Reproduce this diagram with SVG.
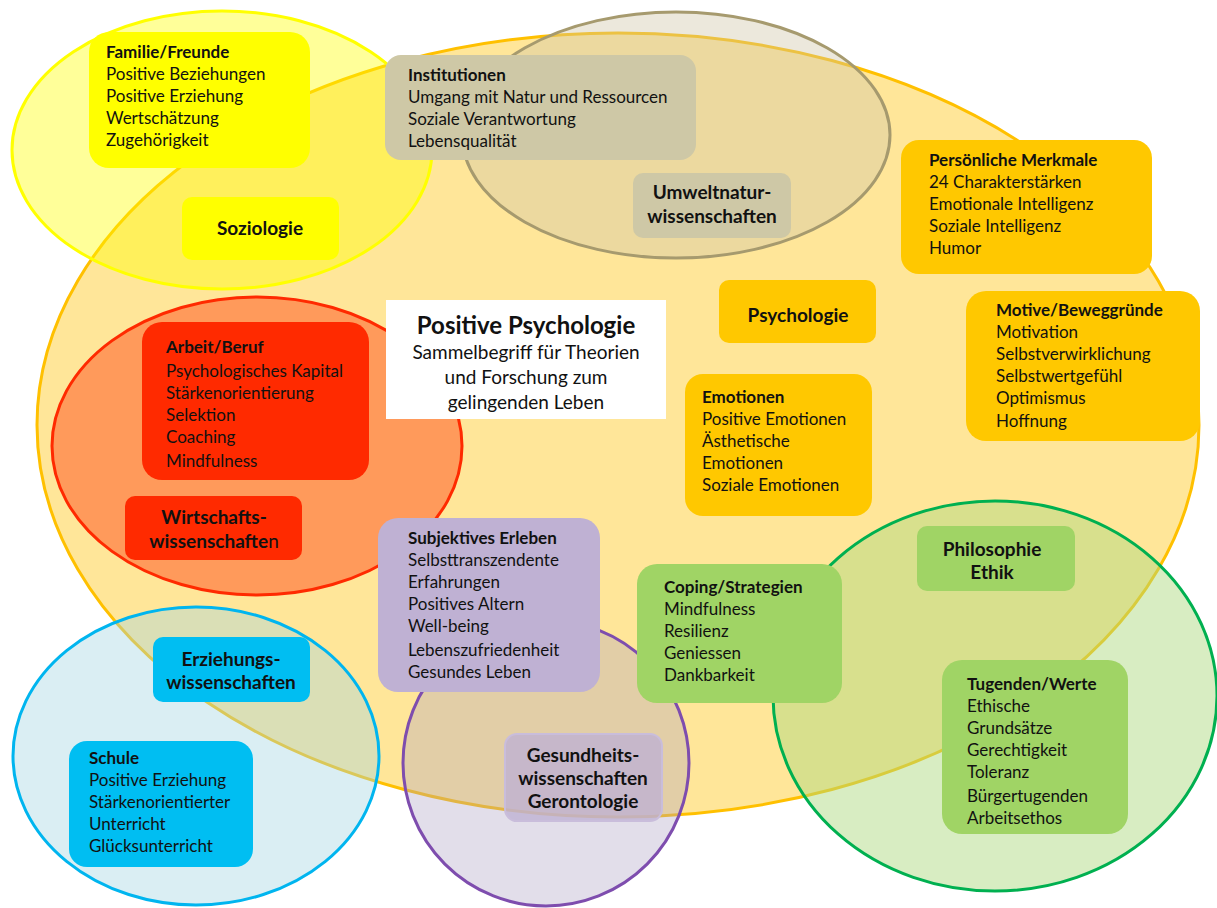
<svg xmlns="http://www.w3.org/2000/svg" width="1217" height="908" viewBox="0 0 1217 908">
<style>
text{font-family:Lato,"Liberation Sans",sans-serif;fill:#111;}
.b{font-size:17px;}
.t{font-size:17px;font-weight:bold;}
.h{font-size:19px;font-weight:bold;text-anchor:middle;}
.c{text-anchor:middle;}
.s{font-size:19px;}
</style>
<rect width="1217" height="908" fill="#fff"/>
<g id="areas">
<ellipse id="area-psychologie" cx="618" cy="425" rx="581" ry="392" fill="#FFE699" stroke="#FFC000" stroke-width="3"/>
<ellipse id="area-soziologie" cx="222" cy="150" rx="210" ry="139" fill="#FFFF00" fill-opacity="0.4" stroke="#FFFF00" stroke-width="3"/>
<ellipse id="area-umwelt" cx="676" cy="135" rx="214" ry="123" fill="#CFC5A7" fill-opacity="0.4" stroke="#A69A6E" stroke-width="3"/>
<ellipse id="area-wirtschaft" cx="257" cy="446" rx="205" ry="149" fill="#FF9A5B" stroke="#FF2A00" stroke-width="3"/>
<ellipse id="area-erziehung" cx="196" cy="756" rx="183" ry="149" fill="#A2D4E1" fill-opacity="0.4" stroke="#00B5EF" stroke-width="3"/>
<ellipse id="area-gesundheit" cx="546" cy="763" rx="143" ry="143" fill="#ABA0C2" fill-opacity="0.35" stroke="#7E4DAE" stroke-width="3"/>
<ellipse id="area-philosophie" cx="995" cy="696" rx="222" ry="195" fill="#AED980" fill-opacity="0.48" stroke="#00B050" stroke-width="3"/>
</g>
<g id="connectors"></g>
<g id="familie">
<rect x="89" y="32" width="221" height="136" rx="20" fill="#FFFF00"/>
<text class="t" x="106" y="58">Familie/Freunde</text>
<text class="b" x="106" y="80">Positive Beziehungen</text>
<text class="b" x="106" y="102">Positive Erziehung</text>
<text class="b" x="106" y="124">Wertschätzung</text>
<text class="b" x="106" y="146">Zugehörigkeit</text>
</g>
<g id="soziologie">
<rect x="182" y="197" width="157" height="63" rx="10" fill="#FFFF00"/>
<text class="h" x="260" y="235">Soziologie</text>
</g>
<g id="institutionen">
<rect x="385" y="55" width="311" height="105" rx="16" fill="#CEC8A6"/>
<text class="t" x="408" y="81">Institutionen</text>
<text class="b" x="408" y="103">Umgang mit Natur und Ressourcen</text>
<text class="b" x="408" y="125">Soziale Verantwortung</text>
<text class="b" x="408" y="147">Lebensqualität</text>
</g>
<g id="umweltnatur">
<rect x="633" y="173" width="158" height="65" rx="10" fill="#CEC8A6"/>
<text class="h" x="712" y="199">Umweltnatur-</text>
<text class="h" x="712" y="223">wissenschaften</text>
</g>
<g id="merkmale">
<rect x="901" y="140" width="251" height="134" rx="18" fill="#FFC800"/>
<text class="t" x="929" y="166">Persönliche Merkmale</text>
<text class="b" x="929" y="188">24 Charakterstärken</text>
<text class="b" x="929" y="210">Emotionale Intelligenz</text>
<text class="b" x="929" y="232">Soziale Intelligenz</text>
<text class="b" x="929" y="254">Humor</text>
</g>
<g id="motive">
<rect x="966" y="291" width="234" height="150" rx="20" fill="#FFC800"/>
<text class="t" x="996" y="316">Motive/Beweggründe</text>
<text class="b" x="996" y="338">Motivation</text>
<text class="b" x="996" y="360">Selbstverwirklichung</text>
<text class="b" x="996" y="382">Selbstwertgefühl</text>
<text class="b" x="996" y="404">Optimismus</text>
<text class="b" x="996" y="427">Hoffnung</text>
</g>
<g id="psychologie">
<rect x="719" y="280" width="157" height="63" rx="10" fill="#FFC800"/>
<text class="h" x="798" y="322">Psychologie</text>
</g>
<g id="emotionen">
<rect x="685" y="374" width="187" height="142" rx="18" fill="#FFC800"/>
<text class="t" x="702" y="403">Emotionen</text>
<text class="b" x="702" y="425">Positive Emotionen</text>
<text class="b" x="702" y="447">Ästhetische</text>
<text class="b" x="702" y="469">Emotionen</text>
<text class="b" x="702" y="491">Soziale Emotionen</text>
</g>
<g id="positive-psychologie">
<rect x="386" y="300" width="280" height="119" fill="#FFFFFF"/>
<text class="c" x="526" y="334" style="font-size:24px;font-weight:bold">Positive Psychologie</text>
<text class="c s" x="526" y="359">Sammelbegriff für Theorien</text>
<text class="c s" x="526" y="384">und Forschung zum</text>
<text class="c s" x="526" y="409">gelingenden Leben</text>
</g>
<g id="arbeit">
<rect x="142" y="322" width="227" height="158" rx="20" fill="#FF2A00"/>
<text class="t" x="166" y="353">Arbeit/Beruf</text>
<text class="b" x="166" y="377">Psychologisches Kapital</text>
<text class="b" x="166" y="399">Stärkenorientierung</text>
<text class="b" x="166" y="421">Selektion</text>
<text class="b" x="166" y="443">Coaching</text>
<text class="b" x="166" y="467">Mindfulness</text>
</g>
<g id="wirtschaft">
<rect x="125" y="496" width="177" height="64" rx="10" fill="#FF2A00"/>
<text class="h" x="214" y="524">Wirtschafts-</text>
<text class="h" x="214" y="548">wissenschafte<tspan style="font-weight:normal">n</tspan></text>
</g>
<g id="subjektiv">
<rect x="378" y="518" width="222" height="174" rx="20" fill="#BFB1D3"/>
<text class="t" x="408" y="544">Subjektives Erleben</text>
<text class="b" x="408" y="566">Selbsttranszendente</text>
<text class="b" x="408" y="588">Erfahrungen</text>
<text class="b" x="408" y="610">Positives Altern</text>
<text class="b" x="408" y="632">Well-being</text>
<text class="b" x="408" y="656">Lebenszufriedenheit</text>
<text class="b" x="408" y="678">Gesundes Leben</text>
</g>
<g id="coping">
<rect x="637" y="564" width="205" height="139" rx="20" fill="#A0D465"/>
<text class="t" x="664" y="593">Coping/Strategien</text>
<text class="b" x="664" y="615">Mindfulness</text>
<text class="b" x="664" y="637">Resilienz</text>
<text class="b" x="664" y="659">Geniessen</text>
<text class="b" x="664" y="681">Dankbarkeit</text>
</g>
<g id="gesundheit">
<rect x="505" y="734" width="157" height="87" rx="12" fill="#BFB1D3" fill-opacity="0.8" stroke="#C9BDDB" stroke-width="2"/>
<text class="h" x="583" y="762">Gesundheits-</text>
<text class="h" x="583" y="785">wissenschaften</text>
<text class="h" x="583" y="808">Gerontologie</text>
</g>
<g id="philosophie">
<rect x="917" y="526" width="158" height="65" rx="10" fill="#A0D465"/>
<text class="h" x="992" y="556">Philosophie</text>
<text class="h" x="992" y="579">Ethik</text>
</g>
<g id="tugenden">
<rect x="942" y="660" width="186" height="174" rx="20" fill="#A0D465"/>
<text class="t" x="967" y="690">Tugenden/Werte</text>
<text class="b" x="967" y="712">Ethische</text>
<text class="b" x="967" y="734">Grundsätze</text>
<text class="b" x="967" y="756">Gerechtigkeit</text>
<text class="b" x="967" y="778">Toleranz</text>
<text class="b" x="967" y="802">Bürgertugenden</text>
<text class="b" x="967" y="824">Arbeitsethos</text>
</g>
<g id="erziehung">
<rect x="153" y="637" width="157" height="65" rx="10" fill="#00BEF2"/>
<text class="h" x="231" y="666">Erziehungs-</text>
<text class="h" x="231" y="689">wissenschaften</text>
</g>
<g id="schule">
<rect x="69" y="741" width="184" height="126" rx="18" fill="#00BEF2"/>
<text class="t" x="89" y="764">Schule</text>
<text class="b" x="89" y="786">Positive Erziehung</text>
<text class="b" x="89" y="808">Stärkenorientierter</text>
<text class="b" x="89" y="830">Unterricht</text>
<text class="b" x="89" y="852">Glücksunterricht</text>
</g>
</svg>
